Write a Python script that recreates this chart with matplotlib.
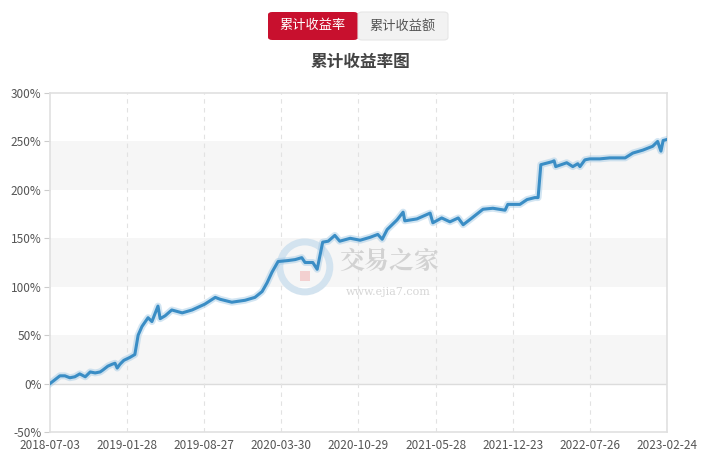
import matplotlib
matplotlib.use("Agg")
import matplotlib.pyplot as plt
from matplotlib.patches import FancyBboxPatch, Ellipse, Rectangle

plt.rcParams["font.family"] = ["Noto Sans CJK SC", "DejaVu Sans"]

# trading-day index since 2018-07-03 and cumulative return (%)
day_idx = [0, 9, 18, 27, 36, 45, 54, 64, 73, 82, 91, 96, 105, 113, 118, 122,
           127, 134, 145, 154, 160, 167, 178, 185, 196, 200, 209, 221, 240,
           258, 281, 300, 309, 330, 354, 372, 385, 394, 403, 414, 432, 445,
           457, 463, 477, 485, 495, 505, 517, 526, 545, 563, 581, 595, 603,
           612, 630, 641, 644, 666, 690, 695, 711, 726, 741, 750, 766, 786,
           804, 826, 831, 853, 866, 880, 886, 891, 911, 915, 918, 938, 949,
           958, 962, 971, 980, 998, 1016, 1044, 1058, 1076, 1094, 1103, 1109,
           1113, 1120]
cum_return = [0, 4, 8, 8, 6, 7, 10, 7, 12, 11, 12, 14, 18, 20, 21, 16,
              20, 24, 27, 30, 50, 59, 68, 64, 80, 67, 70, 76, 73,
              76, 82, 89, 87, 84, 86, 89, 95, 104, 115, 126, 127, 128,
              130, 125, 125, 118, 146, 147, 153, 147, 150, 148, 151, 154, 149,
              159, 169, 177, 168, 170, 176, 166, 171, 167, 171, 164, 171, 180,
              181, 179, 185, 185, 190, 192, 192, 226, 229, 230, 224, 228, 224,
              227, 224, 231, 232, 232, 233, 233, 238, 241, 245, 250, 240,
              251, 252]

tick_pos = [0, 140, 280, 420, 560, 700, 840, 980, 1120]
tick_labels = ["2018-07-03", "2019-01-28", "2019-08-27", "2020-03-30",
               "2020-10-29", "2021-05-28", "2021-12-23", "2022-07-26",
               "2023-02-24"]
y_ticks = [-50, 0, 50, 100, 150, 200, 250, 300]

fig = plt.figure(figsize=(7.2, 4.54), dpi=100)
ax = fig.add_axes([50 / 720, 22 / 454, 617 / 720, 339 / 454])

# alternating bands
for lo in (0, 100, 200):
    ax.axhspan(lo, lo + 50, color="#f6f6f6", zorder=0, lw=0)
ax.axhline(0, color="#dcdcdc", lw=1, zorder=1)

for p in tick_pos[1:]:
    ax.axvline(p, color="#e2e2e2", lw=0.8, ls=(0, (4, 4)), zorder=1)

# watermark
ax.add_patch(Ellipse((0.413, 0.487), 50 / 617, 50 / 339, transform=ax.transAxes,
                     fill=False, ec="#d3e3ef", lw=5, zorder=2))
ax.add_patch(Rectangle((0.405, 0.445), 10 / 617, 10 / 339, transform=ax.transAxes,
                       fc="#f3d0d0", ec="none", zorder=2))
ax.text(0.549, 0.50, "交易之家", transform=ax.transAxes, fontsize=18,
        color="#d2d2d2", fontweight="bold", ha="center", va="center",
        zorder=2, family=["Noto Serif CJK SC", "Noto Sans CJK SC"])
ax.text(0.549, 0.413, "www.ejia7.com", transform=ax.transAxes, fontsize=8,
        color="#d6d6d6", ha="center", va="center", zorder=2,
        family="DejaVu Serif")

ax.plot(day_idx, cum_return, color="#9cc6e4", lw=5, alpha=0.45,
        solid_joinstyle="round", zorder=3)
ax.plot(day_idx, cum_return, color="#3a8dc5", lw=2.2,
        solid_joinstyle="round", zorder=4)

ax.set_xlim(0, 1120)
ax.set_ylim(-50, 300)
ax.set_yticks(y_ticks)
ax.set_yticklabels([f"{v}%" for v in y_ticks])
ax.set_xticks(tick_pos)
ax.set_xticklabels(tick_labels)
ax.tick_params(axis="y", length=4, color="#cccccc", labelsize=8.5,
               labelcolor="#555555", pad=2)
ax.tick_params(axis="x", length=0, labelsize=8.5, labelcolor="#555555", pad=5)
for s in ax.spines.values():
    s.set_color("#e0e0e0")
    s.set_linewidth(1.2)

# toggle buttons and title
fig.patches.append(FancyBboxPatch((268 / 720, 1 - 40 / 454), 90 / 720, 28 / 454,
                                  boxstyle="round,pad=0,rounding_size=0.006",
                                  transform=fig.transFigure, fc="#c8102e",
                                  ec="none"))
fig.patches.append(FancyBboxPatch((358 / 720, 1 - 40 / 454), 90 / 720, 28 / 454,
                                  boxstyle="round,pad=0,rounding_size=0.006",
                                  transform=fig.transFigure, fc="#f2f2f2",
                                  ec="#e6e6e6", lw=0.8))
fig.text(313 / 720, 1 - 26 / 454, "累计收益率", ha="center", va="center",
         fontsize=9.5, color="white")
fig.text(403 / 720, 1 - 26 / 454, "累计收益额", ha="center", va="center",
         fontsize=9.5, color="#555555")
fig.text(360 / 720, 1 - 62 / 454, "累计收益率图", ha="center", va="center",
         fontsize=12, fontweight="bold", color="#444444")

fig.savefig("out.png", dpi=100)
